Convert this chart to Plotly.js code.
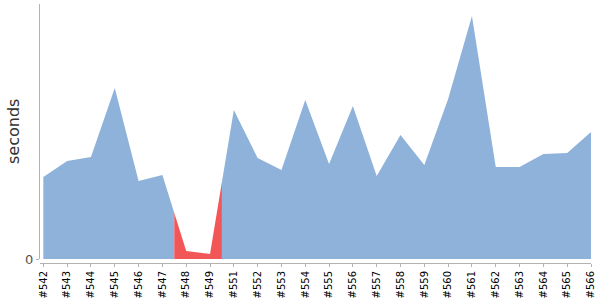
<!DOCTYPE html>
<html>
<head>
<meta charset="utf-8">
<script src="https://cdn.plot.ly/plotly-3.0.1.min.js"></script>
<style>html,body{margin:0;padding:0;background:#fff;}#chart{width:600px;height:300px;}</style>
</head>
<body>
<div id="chart"></div>
<script>
// Build labels
const builds = ["#542","#543","#544","#545","#546","#547","#548","#549","#551","#552","#553","#554",
                "#555","#556","#557","#558","#559","#560","#561","#562","#563","#564","#565","#566"];
// Duration in seconds per build
const seconds = [82, 98, 102, 171, 78, 84, 8, 5, 149, 101, 89, 159,
                 95, 153, 83, 124, 94, 160, 243, 92, 92, 105, 106, 127];
// Build result
const status = ["ok","ok","ok","ok","ok","ok","fail","fail","ok","ok","ok","ok",
                "ok","ok","ok","ok","ok","ok","ok","ok","ok","ok","ok","ok"];
const yTitle = "seconds";

const blue = "#8fb2da";
const red = "#f35656";

const xRange = [-0.14, builds.length - 1];
const frac = v => (v - xRange[0]) / (xRange[1] - xRange[0]);

const traces = [{
  x: builds, y: seconds, type: "scatter", mode: "lines",
  fill: "tozeroy", fillcolor: blue, line: {width: 0, color: blue},
  xaxis: "x", yaxis: "y", hoverinfo: "x+y", showlegend: false
}];

const layout = {
  width: 600, height: 300,
  margin: {l: 40, r: 9, t: 4, b: 37},
  paper_bgcolor: "#fff", plot_bgcolor: "#fff",
  font: {family: "DejaVu Sans", color: "#444"},
  showlegend: false,
  xaxis: {
    type: "category", categoryorder: "array", categoryarray: builds,
    range: xRange, domain: [0, 1],
    anchor: "free", position: 0,
    showline: true, linecolor: "#b3b3b3", linewidth: 1,
    ticks: "outside", ticklen: 3, tickcolor: "#b3b3b3",
    tickangle: -90, tickfont: {family: "DejaVu Sans", size: 10, color: "#000"},
    showgrid: false, zeroline: false, fixedrange: true
  },
  yaxis: {
    domain: [4 / 259, 1], range: [0, 255], anchor: "x",
    showline: true, linecolor: "#b3b3b3", linewidth: 1,
    ticks: "outside", ticklen: 3, tickcolor: "#b3b3b3",
    tickvals: [0], ticktext: ["0"],
    tickfont: {family: "DejaVu Sans", size: 13, color: "#555"},
    showgrid: false, zeroline: false
  },
  annotations: [{
    text: yTitle, textangle: -90, showarrow: false,
    xref: "paper", yref: "paper", x: (13.5 - 40) / 551, y: (263 - 131.5) / 259,
    xanchor: "center", yanchor: "middle",
    font: {family: "DejaVu Sans", size: 16, color: "#333"}
  }]
};

// One clipped overlay subplot per run of failed builds
let axisN = 2;
for (let i = 0; i < status.length; i++) {
  if (status[i] !== "fail") continue;
  let j = i;
  while (j + 1 < status.length && status[j + 1] === "fail") j++;
  const r = [i - 0.5, j + 0.5];
  const name = "x" + axisN;
  layout["xaxis" + axisN] = {
    type: "category", categoryorder: "array", categoryarray: builds,
    range: r, domain: [frac(r[0]), frac(r[1])], anchor: "y",
    visible: false, showgrid: false, zeroline: false, fixedrange: true
  };
  traces.push({
    x: builds, y: seconds, type: "scatter", mode: "lines",
    fill: "tozeroy", fillcolor: red, line: {width: 0, color: red},
    xaxis: name, yaxis: "y", hoverinfo: "x+y", showlegend: false
  });
  axisN++;
  i = j;
}

Plotly.newPlot("chart", traces, layout, {displayModeBar: false, staticPlot: true});
</script>
</body>
</html>
